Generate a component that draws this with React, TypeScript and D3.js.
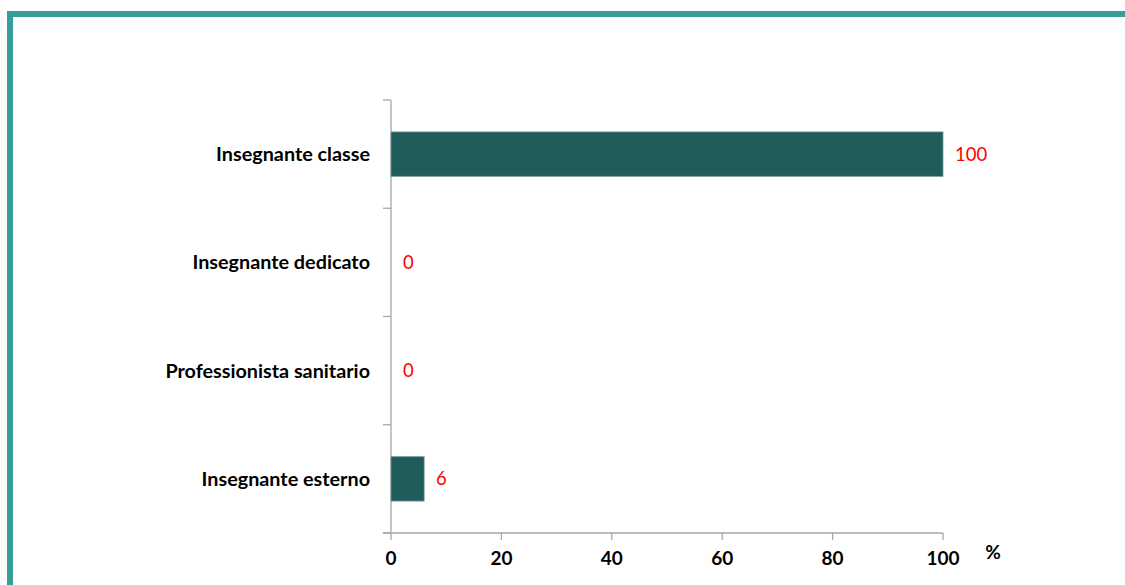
import React from "react";
import * as d3 from "d3";

const categories = ["Insegnante classe", "Insegnante dedicato", "Professionista sanitario", "Insegnante esterno"];
const values = [100, 0, 0, 6];
const xTicks = [0, 20, 40, 60, 80, 100];

const W = 1125;
const H = 585;
const FONT = "Lato, 'Open Sans', sans-serif";

export default function App() {
  const x = d3.scaleLinear().domain([0, 100]).range([391, 943]);
  const y = d3.scaleBand().domain(categories).range([100, 533]).paddingInner(0.59).paddingOuter(0.295);
  const bandEdges = d3.range(categories.length + 1).map((i) => 100 + (i * (533 - 100)) / categories.length);
  const axisColor = "#a6a6a6";
  return (
    <svg width={W} height={H} style={{ position: "absolute", left: 0, top: 0 }}>
      <rect x={0} y={0} width={W} height={H} fill="#fff" />
      <rect x={7} y={11} width={W - 7} height={6} fill="#379d97" />
      <rect x={7} y={11} width={6} height={H - 11} fill="#379d97" />
      {/* y axis */}
      <line x1={x(0)} x2={x(0)} y1={100} y2={533} stroke={axisColor} strokeWidth={1.3} />
      {bandEdges.map((e, i) => (
        <line key={i} x1={383} x2={x(0)} y1={e} y2={e} stroke={axisColor} strokeWidth={1.3} />
      ))}
      {/* x axis */}
      <line x1={383} x2={x(100)} y1={533} y2={533} stroke={axisColor} strokeWidth={1.3} />
      {xTicks.map((t) => (
        <g key={t}>
          <line x1={x(t)} x2={x(t)} y1={533} y2={540} stroke={axisColor} strokeWidth={1.3} />
          <text x={x(t)} y={565} textAnchor="middle" fontFamily={FONT} fontWeight="bold" fontSize={19} fill="#000">
            {t}
          </text>
        </g>
      ))}
      <text x={993} y={559} textAnchor="middle" fontFamily={FONT} fontWeight="bold" fontSize={19} fill="#000">%</text>
      {categories.map((c, i) => {
        const yc = (y(c) as number) + y.bandwidth() / 2;
        return (
          <g key={c}>
            {values[i] > 0 && (
              <rect x={x(0)} y={y(c)} width={x(values[i]) - x(0)} height={y.bandwidth()} fill="#1f5c5a" stroke="#6f9896" strokeWidth={0.8} />
            )}
            <text x={370} y={yc} dy="0.35em" textAnchor="end" fontFamily={FONT} fontWeight="bold" fontSize={19.8} fill="#000">
              {c}
            </text>
            <text x={x(values[i]) + 12} y={yc} dy="0.35em" textAnchor="start" fontFamily={FONT} fontSize={18.5} fill="#ff0000">
              {values[i]}
            </text>
          </g>
        );
      })}
    </svg>
  );
}
